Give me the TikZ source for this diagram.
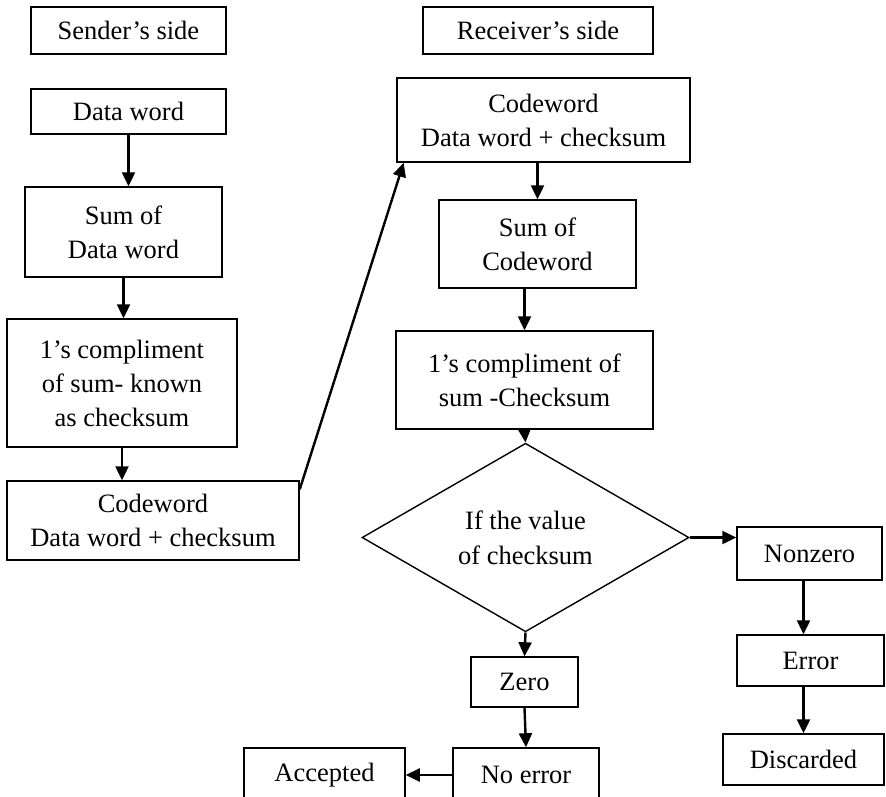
\documentclass[tikz,border=0pt]{standalone}
\usepackage{fontspec}
\setmainfont{Liberation Serif}
\usetikzlibrary{shapes.geometric,arrows.meta}

\begin{document}
\begin{tikzpicture}[
    x=1pt, y=-1pt,
    box/.style={draw, line width=1.5pt, inner sep=0pt, align=center, font=\fontsize{26.5}{34}\selectfont},
    decision/.style={draw, diamond, line width=1.4pt, inner sep=0pt, align=center, font=\fontsize{26.5}{35}\selectfont},
    arrow/.style={-{Triangle[length=14pt,width=13pt]}, line width=2.4pt}
]

\clip (0,0) rectangle (886,796);

% Headings
\node[box, minimum width=195pt, minimum height=47pt] (sender) at (128.5,30.5) {Sender’s side};
\node[box, minimum width=230pt, minimum height=47pt] (receiver) at (538,30.5) {Receiver’s side};

% Sender's side
\node[box, minimum width=195pt, minimum height=45pt] (dataword) at (128.5,111.5) {Data word};
\node[box, minimum width=197pt, minimum height=90pt] (sumdata) at (123.5,232) {Sum of\\Data word};
\node[box, minimum width=230pt, minimum height=128pt] (compsend) at (122,383) {1’s compliment\\of sum- known\\as checksum};
\node[box, minimum width=292pt, minimum height=79pt] (codesend) at (153,520.5) {Codeword\\Data word + checksum};

% Receiver's side
\node[box, minimum width=293pt, minimum height=84pt] (coderecv) at (543.5,120) {Codeword\\Data word + checksum};
\node[box, minimum width=197pt, minimum height=88pt] (sumcode) at (537.5,244) {Sum of\\Codeword};
\node[box, minimum width=257pt, minimum height=98pt] (comprecv) at (524.5,380) {1’s compliment of\\sum -Checksum};
\node[decision, minimum width=327pt, minimum height=149pt] (check) at (525.5,537.5) {If the value\\of checksum};

% Outcomes
\node[box, minimum width=145pt, minimum height=53pt] (nonzero) at (809.5,553.5) {Nonzero};
\node[box, minimum width=147pt, minimum height=51pt] (error) at (810.5,660.5) {Error};
\node[box, minimum width=161pt, minimum height=51pt] (discarded) at (803.5,759.5) {Discarded};
\node[box, minimum width=107pt, minimum height=50pt] (zero) at (524.5,682) {Zero};
\node[box, minimum width=146pt, minimum height=54pt] (noerror) at (526,775) {No error};
\node[box, minimum width=161pt, minimum height=54pt] (accepted) at (324.5,775) {Accepted};

% Sender's flow
\draw[arrow] (dataword.south) -- (dataword.south |- sumdata.north);
\draw[arrow] (sumdata.south) -- (sumdata.south |- compsend.north);
\draw[arrow] (compsend.south) -- (compsend.south |- codesend.north);

% Transmission
\draw[arrow] (codesend.12) -- (coderecv.197);

% Receiver's flow
\draw[arrow] (coderecv.south -| sumcode.north) -- (sumcode.north);
\draw[arrow] (sumcode.south -| comprecv.north) -- (comprecv.north);
\draw[arrow] (comprecv.south) -- (check.north);
\draw[arrow] (check.east) -- (check.east -| nonzero.west);
\draw[arrow] (check.south) -- (zero.north);
\draw[arrow] (zero.south) -- (noerror.north);
\draw[arrow] (nonzero.south -| discarded.north) -- (error.north -| discarded.north);
\draw[arrow] (error.south -| discarded.north) -- (discarded.north);
\draw[arrow] (noerror.west) -- (accepted.east);

\end{tikzpicture}
\end{document}
